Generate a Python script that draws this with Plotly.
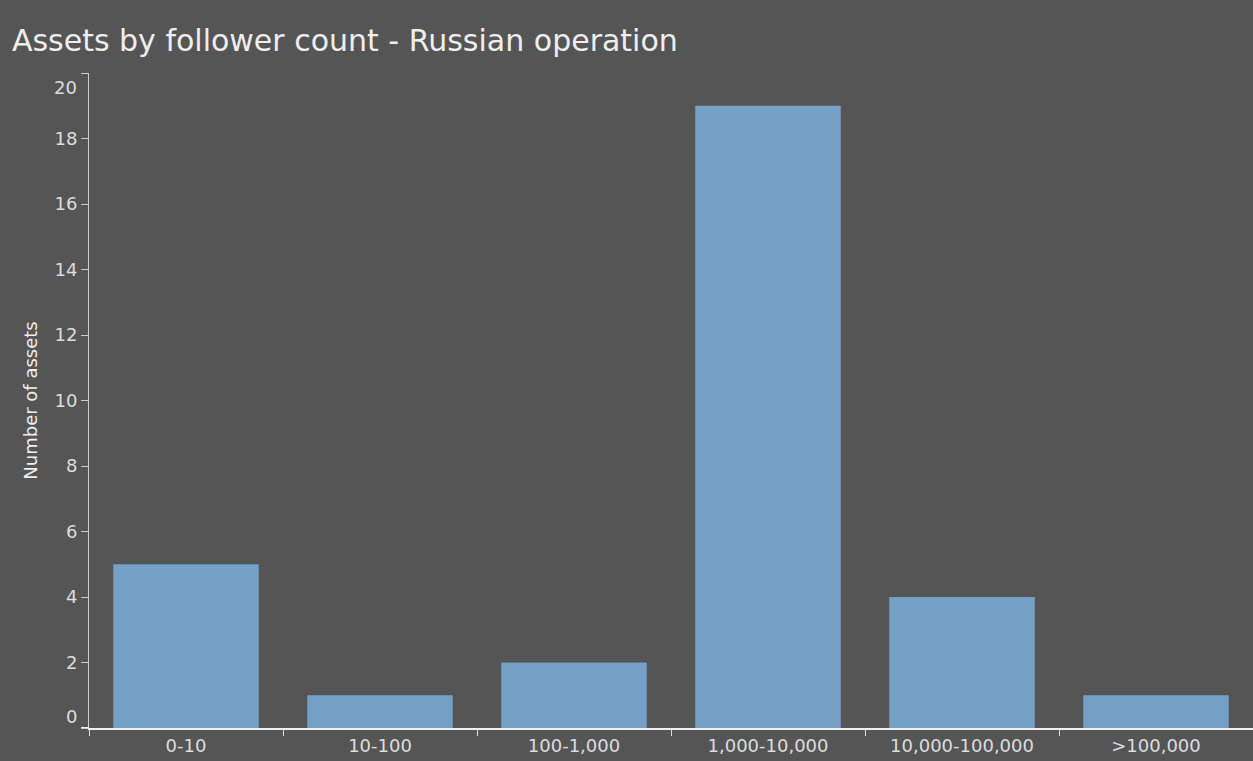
import plotly.graph_objects as go

categories = ["0-10", "10-100", "100-1,000", "1,000-10,000", "10,000-100,000", ">100,000"]
counts = [5, 1, 2, 19, 4, 1]
y_ticks = [0, 2, 4, 6, 8, 10, 12, 14, 16, 18, 20]

BG = "#555555"
TXT = "#e6e6e6"
BAR = "#76a1c7"
FONT = "DejaVu Sans"

fig = go.Figure(go.Bar(x=categories, y=counts, marker=dict(color=BAR, line=dict(width=0)),
                       hoverinfo="skip"))

fig.update_layout(
    width=1253, height=761,
    paper_bgcolor=BG, plot_bgcolor=BG,
    margin=dict(l=89, r=0, t=73, b=33),
    bargap=0.25,
    showlegend=False,
    font=dict(family=FONT, color=TXT, size=16),
    title=dict(text="Assets by follower count - Russian operation", x=0.0095, xanchor="left",
               y=1 - 40 / 761, yanchor="middle", font=dict(size=30, color="#eeeeee", family=FONT)),
)

fig.update_xaxes(
    type="category", tickson="boundaries", ticks="outside", ticklen=6, tickcolor="#dddddd",
    tickwidth=1, showline=True, linecolor="#f0f0f0", linewidth=2, showgrid=False,
    tickfont=dict(size=18, color="#dddddd"), range=[-0.5, 5.5],
)

labels = [str(v) if v not in (0, 20) else "" for v in y_ticks]
fig.update_yaxes(
    range=[0, 20], tickvals=y_ticks, ticktext=labels, ticks="outside", ticklen=7,
    tickcolor="#cccccc", showline=True, linecolor="#cccccc", linewidth=1, showgrid=False,
    zeroline=False, tickfont=dict(size=18, color="#dddddd"),
    title=dict(text="Number of assets", font=dict(size=18, color="#eeeeee"), standoff=12),
)

# baseline extends a little past the value axis, as in the reference
fig.add_shape(type="line", xref="paper", yref="y", x0=-8 / 1164, x1=0, y0=0, y1=0,
              line=dict(color="#f0f0f0", width=2))

# end labels nudged inward as in the reference
fig.add_annotation(x=0, xref="paper", xanchor="right", xshift=-10, y=20, yref="y",
                   yanchor="middle", yshift=-14, text="20", showarrow=False,
                   font=dict(size=18, color="#dddddd"))
fig.add_annotation(x=0, xref="paper", xanchor="right", xshift=-10, y=0, yref="y",
                   yanchor="middle", yshift=12, text="0", showarrow=False,
                   font=dict(size=18, color="#dddddd"))

fig.write_html("out.html", config={"displayModeBar": False},
               post_script="document.body.style.margin='0';document.body.style.background='#555555';")
